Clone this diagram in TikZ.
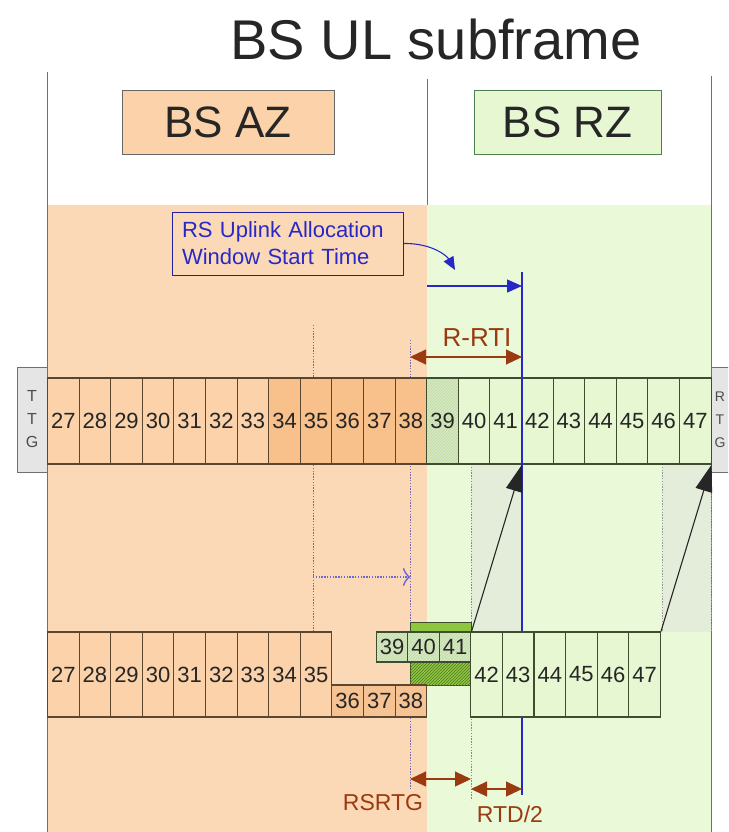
\documentclass[tikz,border=0pt]{standalone}
\usepackage{fontspec}
\setmainfont{Liberation Sans}
\usetikzlibrary{arrows.meta,patterns}
\definecolor{bgO}{HTML}{FCD9B6}
\definecolor{bgG}{HTML}{EAFAD9}
\definecolor{cO}{HTML}{FBD2AA}
\definecolor{cOd}{HTML}{F8C08B}
\definecolor{cG}{HTML}{E6F7D2}
\definecolor{cGh}{HTML}{D6ECB8}
\definecolor{bdO}{HTML}{5B4630}
\definecolor{bdG}{HTML}{3E4C30}
\definecolor{grayreg}{HTML}{E4EDD9}
\definecolor{blk}{HTML}{262626}
\definecolor{brn}{HTML}{9A3A10}
\definecolor{bl}{HTML}{2828C8}
\definecolor{dotp}{HTML}{7A68A8}
\definecolor{frame}{HTML}{707070}
\definecolor{lime}{HTML}{8DC63F}
\tikzset{
  cellbase/.style={draw, line width=1.1pt, inner sep=0pt, minimum width=31.6pt,
    font=\fontsize{22}{22}\selectfont, text=blk},
  cellO/.style={cellbase, draw=bdO, fill=cO},
  cellOd/.style={cellbase, draw=bdO, fill=cOd},
  cellOh/.style={cellbase, draw=bdO, preaction={fill=cOd}, pattern=north east lines, pattern color=cOd!80!brown!70},
  cellG/.style={cellbase, draw=bdG, fill=cG},
  cellGh/.style={cellbase, draw=bdG, preaction={fill=cGh}, pattern=north east lines, pattern color=cGh!70!green!60!black!40},
  ttg/.style={draw=frame, line width=1pt, fill=black!10, inner sep=0pt, minimum width=30pt, minimum height=105pt},
  ttgtext/.style={font=\fontsize{16}{23}\selectfont, text=black!70, align=center, inner sep=0pt},
  hdr/.style={draw=black!60, line width=1pt, inner sep=0pt, minimum height=63pt, font=\fontsize{44}{44}\selectfont, text=blk},
  dimarrow/.style={brn, line width=1.1pt, {Triangle[length=16pt,width=15pt]}-{Triangle[length=16pt,width=15pt]}},
  dimlabel/.style={text=brn, font=\fontsize{23}{23}\selectfont, inner sep=0pt},
  dotline/.style={dotp, line width=1pt, dash pattern=on 1.4pt off 1.4pt},
  blackarrow/.style={line width=1.1pt, draw=black!85, -{Triangle[length=27pt,width=17pt]}}
}
\begin{document}
\begin{tikzpicture}[x=1pt,y=-1pt]
\useasboundingbox (0,0) rectangle (728,832);
\clip (0,0) rectangle (728,832);
% backgrounds
\fill[white] (0,0) rectangle (728,832);
\fill[bgO] (47,205) rectangle (427,832);
\fill[bgG] (427,205) rectangle (711,832);
\fill[grayreg] (471,464) rectangle (522,632);
\fill[grayreg] (662,464) rectangle (711,632);
% frame lines
\draw[frame, line width=1pt] (47,72) -- (47,832);
\draw[frame, line width=1pt] (427,79) -- (427,205);
\draw[frame, line width=1pt] (711,76) -- (711,832);
% title and headers
\node[font=\fontsize{56}{56}\selectfont, text=blk, anchor=base, inner sep=0pt] (title) at (436,60) {BS UL subframe};
\node[hdr, fill=cO, minimum width=212pt] (az) at (228,122.5) {BS AZ};
\node[hdr, fill=cG, draw=black!50!green!40!gray, minimum width=187pt] (rz) at (567.5,122.5) {BS RZ};
% TTG boxes
\node[ttg] (ttgL) at (32,419.5) {};
\node[ttgtext] (ttgLt) at (32,419.5) {T\\T\\G};
\node[ttg] (ttgR) at (726,419.5) {};
\node[ttgtext, font=\fontsize{14}{23}\selectfont] (ttgRt) at (720,419.5) {R\\T\\G};
% dotted guides
\draw[dotline] (313,325) -- (313,632);
\draw[dotline] (410,340) -- (410,790);
\draw[dotline, draw=bl!60] (471,464) -- (471,800);
\draw[dotline, draw=black!40] (662,464) -- (662,632);
\draw[dotline, draw=black!40] (711,464) -- (711,632);
% upper row
\foreach \n in {27,...,33} \node[cellO, minimum height=86pt] (u\n) at ({47.5+(\n-26.5)*31.6},421) {\n};
\foreach \n in {34,...,38} \node[cellOd, minimum height=86pt] (u\n) at ({47.5+(\n-26.5)*31.6},421) {\n};
\node[cellGh, minimum height=86pt] (u39) at ({47.5+(39-26.5)*31.6},421) {39};
\foreach \n in {40,...,47} \node[cellG, minimum height=86pt] (u\n) at ({47.5+(\n-26.5)*31.6},421) {\n};
% blue reference line
\coordinate (bltop) at (522,272);
\coordinate (blbot) at (522,795);
\draw[bl, line width=1.3pt] (bltop) -- (blbot);
% horizontal dotted arrow
\coordinate (hd1) at (313,577);
\coordinate (hd2) at (410,577);
\draw[dotline, draw=bl!70, line width=1.2pt, -{Classical TikZ Rightarrow[length=7pt,width=18pt,line width=1.4pt,sep=0pt]}] (hd1) -- (hd2);
% green block behind 40,41
\node[draw=bdG, line width=0.8pt, fill=lime, inner sep=0pt, minimum width=61pt, minimum height=63pt] (gblk) at (440.5,653.5) {};
\fill[pattern=north east lines, pattern color=lime!60!black] (410,662) rectangle (471,685);
% lower row
\foreach \n in {27,...,35} \node[cellO, minimum height=85pt] (l\n) at ({47.5+(\n-26.5)*31.6},674.5) {\n};
\foreach \n in {36,...,38} \node[cellOh, minimum height=32pt] (l\n) at ({47.5+(\n-26.5)*31.6},701) {\n};
\foreach \n in {39,...,41} \node[cellGh, minimum height=30pt] (l\n) at ({376.2+(\n-38.5)*31.6},647) {\n};
\foreach \n in {42,...,47} \node[cellG, minimum height=85pt] (l\n) at ({470.8+(\n-41.5)*31.6},674.5) {\n};
% black propagation arrows
\draw[blackarrow] (l41.north east) -- (u41.south east);
\draw[blackarrow] (l47.north east) -- (u47.south east);
% RS uplink box
\node[draw=bl!80!black, line width=1pt, fill=bgO, text=bl, align=left, inner sep=0pt,
  minimum width=231pt, minimum height=63pt, text width=211pt,
  font=\fontsize{22}{27}\selectfont] (rsbox) at (287.5,243.5) {RS Uplink Allocation\\Window Start Time};
\coordinate (curvend) at (455,270);
\draw[bl, line width=1.1pt, -{Triangle[length=13pt,width=11pt]}] (rsbox.east) .. controls (432,243) and (447,256) .. (curvend);
\coordinate (wst0) at (427,286);
\draw[bl, line width=1.3pt, -{Triangle[length=15pt,width=13pt]}] (wst0) -- (522,286);
% R-RTI
\coordinate (rr1) at (410,357);
\coordinate (rr2) at (522,357);
\draw[dimarrow] (rr1) -- (rr2);
\node[dimlabel, font=\fontsize{26}{26}\selectfont] (rrti) at (477,338) {R-RTI};
% RSRTG and RTD/2
\coordinate (rs1) at (410,779);
\coordinate (rs2) at (471,779);
\draw[dimarrow] (rs1) -- (rs2);
\node[dimlabel] (rsrtg) at (383,803) {RSRTG};
\coordinate (rt1) at (471,789);
\coordinate (rt2) at (522,789);
\draw[dimarrow] (rt1) -- (rt2);
\node[dimlabel] (rtd) at (510,814) {RTD/2};
\end{tikzpicture}
\end{document}
